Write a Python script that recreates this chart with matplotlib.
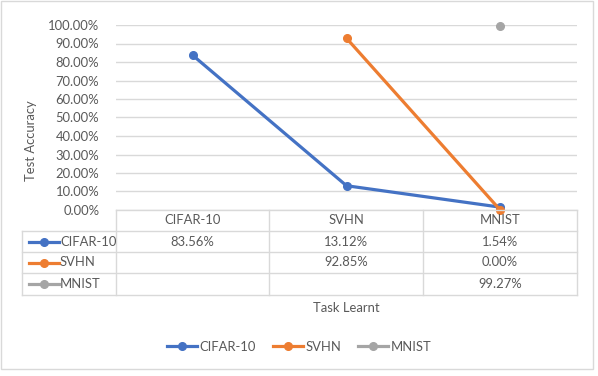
import numpy as np
import matplotlib
matplotlib.use('Agg')
import matplotlib.pyplot as plt
from matplotlib.lines import Line2D
from matplotlib.patches import Rectangle

tasks = ['CIFAR-10', 'SVHN', 'MNIST']
series_names = ['CIFAR-10', 'SVHN', 'MNIST']
cifar_acc = [83.56, 13.12, 1.54]
svhn_acc = [np.nan, 92.85, 0.00]
mnist_acc = [np.nan, np.nan, 99.27]
yticks = [0, 10, 20, 30, 40, 50, 60, 70, 80, 90, 100]

colors = ['#4472C4', '#ED7D31', '#A5A5A5']
txt = '#595959'
grid = '#D9D9D9'
plt.rcParams['font.family'] = ['Lato', 'DejaVu Sans']
fs = 9.4

W, H = 598, 376
fig = plt.figure(figsize=(W / 100, H / 100), dpi=100)


def fx(px):
    return px / W


def fy(py):
    return 1 - py / H


# plot area in pixels
left, right, top, bottom = 116, 577, 25, 210
ax = fig.add_axes([fx(left), fy(bottom), fx(right) - fx(left), fy(top) - fy(bottom)])
x = np.arange(len(tasks))
all_series = [cifar_acc, svhn_acc, mnist_acc]
for vals, name, c in zip(all_series, series_names, colors):
    ax.plot(x, vals, color=c, lw=2.3, marker='o', ms=5.5, label=name, clip_on=False, zorder=3)
ax.set_xlim(-0.5, 2.5)
ax.set_ylim(0, 100)
ax.set_yticks(yticks)
ax.set_yticklabels(['%.2f%%' % v for v in yticks], color=txt, fontsize=fs)
ax.tick_params(axis='y', length=0, pad=12)
ax.set_xticks([])
for s in ax.spines.values():
    s.set_visible(False)
ax.yaxis.grid(True, color=grid, lw=1)
ax.set_axisbelow(True)
ax.patch.set_alpha(0)

# data table below the plot
row_lines = [231, 252, 273, 295]
col_lines = [left, 269, 423, right]
tab_left = 22


def hline(y, x0, x1):
    fig.add_artist(Line2D([fx(x0), fx(x1)], [fy(y), fy(y)], color=grid, lw=1))


def vline(xp, y0, y1):
    fig.add_artist(Line2D([fx(xp), fx(xp)], [fy(y0), fy(y1)], color=grid, lw=1))


hline(bottom, left, right)
for y in row_lines:
    hline(y, tab_left, right)
for xp in col_lines:
    vline(xp, bottom, row_lines[-1])
vline(tab_left, row_lines[0], row_lines[-1])

centers = [(col_lines[i] + col_lines[i + 1]) / 2 for i in range(3)]
for cx, t in zip(centers, tasks):
    fig.text(fx(cx), fy((bottom + row_lines[0]) / 2), t, ha='center', va='center',
             color=txt, fontsize=fs)

for r, (vals, name, c) in enumerate(zip(all_series, series_names, colors)):
    yc = (row_lines[r] + row_lines[r + 1]) / 2
    fig.add_artist(Line2D([fx(29), fx(59)], [fy(yc), fy(yc)], color=c, lw=2.3))
    fig.add_artist(Line2D([fx(44)], [fy(yc)], color=c, marker='o', ms=5.5))
    fig.text(fx(60), fy(yc), name, ha='left', va='center', color=txt, fontsize=fs)
    for cx, v in zip(centers, vals):
        if not np.isnan(v):
            fig.text(fx(cx), fy(yc), '%.2f%%' % v, ha='center', va='center',
                     color=txt, fontsize=fs)

fig.text(fx(346), fy(308), 'Task Learnt', ha='center', va='center', color=txt, fontsize=fs)
fig.text(fx(31), fy(141), 'Test Accuracy', ha='center', va='center', rotation=90,
         color=txt, fontsize=fs)

# legend at bottom
handles = [Line2D([], [], color=c, lw=2.3, marker='o', ms=5.5) for c in colors]
fig.legend(handles, series_names, loc='center', bbox_to_anchor=(fx(299), fy(347)),
           ncol=3, frameon=False, fontsize=fs, labelcolor=txt, handlelength=2.3,
           handletextpad=0.2, columnspacing=1.3)

# chart border
fig.add_artist(Rectangle((fx(1), fy(369)), fx(593) - fx(1), fy(1) - fy(369),
                         fill=False, ec=grid, lw=1))

fig.savefig('out.png', dpi=100)
